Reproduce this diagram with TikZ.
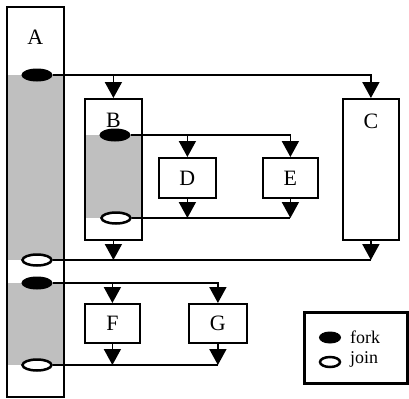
\documentclass[tikz,border=0pt]{standalone}
\usepackage{fontspec}
\setmainfont{Liberation Serif}
\usetikzlibrary{arrows.meta}
\usetikzlibrary{shapes.geometric}
\usetikzlibrary{calc,backgrounds}

\begin{document}
\begin{tikzpicture}[x=1bp, y=-1bp,
  box/.style={draw, line width=1.8bp, inner sep=0, anchor=north west, font=\fontsize{22}{24}\selectfont},
  lbl/.style={inner sep=0, font=\fontsize{22}{24}\selectfont},
  key/.style={inner sep=0, anchor=base west, font=\fontsize{18}{20}\selectfont},
  forkpt/.style={ellipse, draw, fill=black, line width=1bp, minimum width=30bp, minimum height=12bp, inner sep=0},
  joinpt/.style={ellipse, draw, fill=white, line width=2.5bp, minimum width=29bp, minimum height=11bp, inner sep=0},
  arr/.style={line width=1.8bp, -{Triangle[width=17bp,length=16bp]}},
  ln/.style={line width=1.8bp}]
\useasboundingbox (0,0) rectangle (409,399);
% activities
\node[box, minimum width=57bp, minimum height=390bp] (A) at (6,6) {};
\node[box, minimum width=57bp, minimum height=141bp] (B) at (84,98) {};
\node[box, minimum width=56bp, minimum height=141bp] (C) at (342,98) {};
\node[box, minimum width=57bp, minimum height=40bp] (D) at (158,157) {D};
\node[box, minimum width=55bp, minimum height=40bp] (E) at (262,157) {E};
\node[box, minimum width=55bp, minimum height=39bp] (F) at (84,303) {F};
\node[box, minimum width=58bp, minimum height=39bp] (G) at (188,303) {G};
\node[lbl] (labA) at ($(A.north)+(0,31)$) {A};
\node[lbl] (labB) at ($(B.north)+(0,22)$) {B};
\node[lbl] (labC) at ($(C.north)+(0,23)$) {C};
% fork / join points
\node[forkpt] (forkA) at (37,75) {};
\node[joinpt] (joinA) at (37,260) {};
\node[forkpt] (forkAA) at (37,283) {};
\node[joinpt] (joinAA) at (37,365) {};
\node[forkpt] (forkB) at (115,135) {};
\node[joinpt] (joinB) at (116,218) {};
\begin{scope}[on background layer]
\fill[black!25] (A.west |- forkA) rectangle (A.east |- joinA);
\fill[black!25] (A.west |- forkAA) rectangle (A.east |- joinAA);
\fill[black!25] (B.west |- forkB) rectangle (B.east |- joinB);
\end{scope}
% A -> B, C -> A
\foreach \t in {B,C} {
 \draw[arr] (forkA.east) -| (\t.north);
 \draw[arr] (\t.south) -- (\t.south |- joinA);
}
\draw[ln] (joinA.east) -- (joinA -| C.south);
% B -> D, E -> B
\foreach \t in {D,E} {
 \draw[arr] (forkB.east) -| (\t.north);
 \draw[arr] (\t.south) -- (\t.south |- joinB);
}
\draw[ln] (joinB.east) -- (joinB -| E.south);
% A -> F, G -> A
\foreach \t in {F,G} {
 \draw[arr] (forkAA.east) -| (\t.north);
 \draw[arr] (\t.south) -- (\t.south |- joinAA);
}
\draw[ln] (joinAA.east) -- (joinAA -| G.south);
% legend
\node[draw, line width=2.8bp, minimum width=103bp, minimum height=71bp, anchor=north west] (legend) at (303,311) {};
\node[forkpt, minimum width=21bp, minimum height=11bp] (kfork) at (330,337.5) {};
\node[joinpt, minimum width=20bp, minimum height=10bp] (kjoin) at (330,362) {};
\node[key] (kforklab) at (350,343) {fork};
\node[key] (kjoinlab) at (350,363) {join};
\end{tikzpicture}
\end{document}
